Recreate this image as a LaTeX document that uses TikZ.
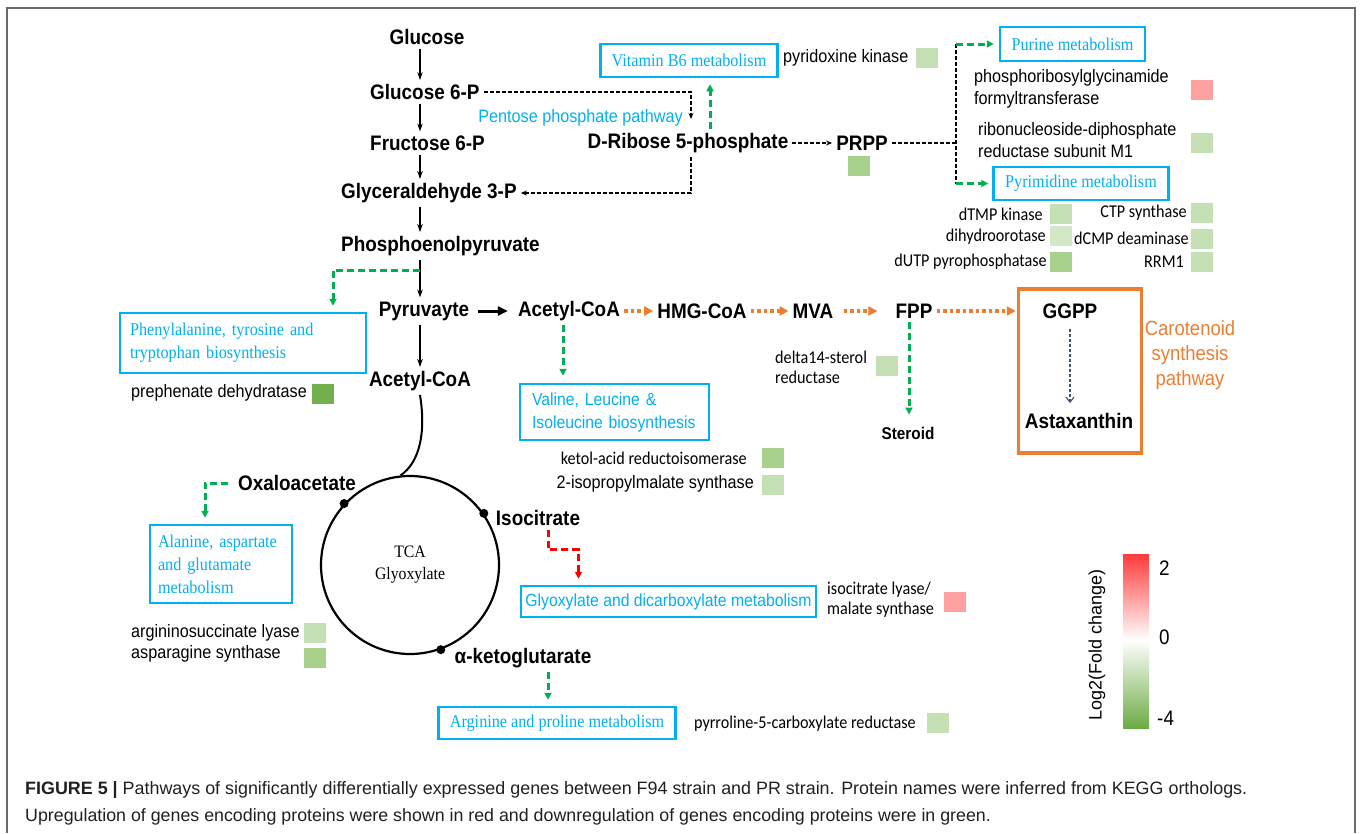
\documentclass[tikz,border=0pt]{standalone}
\usepackage{fontspec}
\usepackage{tikz}
\usetikzlibrary{arrows.meta}
\setmainfont{Liberation Sans}
\newfontfamily\narrowsans[FakeStretch=0.9]{Liberation Sans}
\newfontfamily\narrowserif[FakeStretch=0.9]{Liberation Serif}
\newfontfamily\narrowcal[FakeStretch=0.9]{Carlito}
\definecolor{pathblue}{HTML}{00B0F0}
\definecolor{dgreen}{HTML}{00B050}
\definecolor{orng}{HTML}{ED7D31}
\definecolor{slate}{HTML}{44546A}
\definecolor{framegray}{HTML}{6A6A6A}
\definecolor{captxt}{HTML}{231F20}
\definecolor{lg}{HTML}{C5E0B4}
\definecolor{llg}{HTML}{D3E8C7}
\definecolor{mg}{HTML}{A9D18E}
\definecolor{dg}{HTML}{74AF4E}
\definecolor{lr}{HTML}{FFA0A0}
\definecolor{barred}{HTML}{FF3A3A}
\definecolor{bargreen}{HTML}{6CAB43}
\tikzset{
  met/.style={font=\narrowsans\bfseries\fontsize{21}{24}\selectfont, inner sep=4pt},
  gene/.style={font=\narrowsans\fontsize{18}{22}\selectfont, inner sep=0pt, align=left},
  cal/.style={font=\narrowcal\fontsize{18}{20}\selectfont, inner sep=0pt, align=left},
  pbox/.style={draw=pathblue, line width=2.5pt, text=pathblue, inner sep=0pt, font=\narrowserif\fontsize{18}{23}\selectfont},
  sbox/.style={pbox, font=\narrowsans\fontsize{17.5}{23}\selectfont},
  sq/.style={minimum width=22pt, minimum height=20pt, inner sep=0pt},
  ar/.style={-{Stealth[length=8pt,width=5.5pt]}, line width=1.1pt},
  kdash/.style={-{Stealth[length=6pt,width=5pt]}, dash pattern=on 4pt off 2pt, line width=1.2pt},
  gdash/.style={dgreen, -{Triangle[length=7pt,width=7pt]}, dash pattern=on 7pt off 4pt, line width=3pt},
  rdash/.style={gdash, red},
  odot/.style={orng, -{Triangle[length=9pt,width=9pt]}, dash pattern=on 3.5pt off 3pt, line width=3.5pt},
}
\begin{document}
\begin{tikzpicture}[x=1pt, y=-1pt]
\useasboundingbox (0,0) rectangle (1360,833);
\draw[framegray, line width=2pt] (7,833) -- (7,8) -- (1355,8) -- (1355,833);

\coordinate (spine) at (420,0);
\node[met] (glc) at (427,37) {Glucose};
\node[met, anchor=west] (g6p) at (366,92) {Glucose 6-P};
\node[met, anchor=west] (f6p) at (366,143) {Fructose 6-P};
\node[met, anchor=west] (g3p) at (337,193) {Glyceraldehyde 3-P};
\node[met, anchor=west] (pep) at (337,246) {Phosphoenolpyruvate};
\node[met] (pyr) at (424,311) {Pyruvayte};
\node[met] (acoa2) at (420,381) {Acetyl-CoA};
\node[met] (acoa1) at (569,311) {Acetyl-CoA};
\node[met] (hmg) at (702,311) {HMG-CoA};
\node[met] (mva) at (813,311) {MVA};
\node[met] (fpp) at (914,311) {FPP};
\node[met] (ggpp) at (1070,311) {GGPP};
\node[met] (asta) at (1079,421) {Astaxanthin};
\node[met, font=\narrowsans\bfseries\fontsize{17}{20}\selectfont] (ster) at (908,433) {Steroid};
\node[met] (rib) at (688,143) {D-Ribose 5-phosphate};
\node[met] (prpp) at (862,143) {PRPP};
\node[met] (oxa) at (297,483) {Oxaloacetate};
\node[met] (iso) at (538,518) {Isocitrate};
\node[met] (akg) at (523,658) {α-ketoglutarate};
\node[anchor=east, text=pathblue, inner sep=0pt, font=\narrowsans\fontsize{18}{20}\selectfont] (ppp) at (683,118) {Pentose phosphate pathway};

\node[pbox, minimum width=177pt, minimum height=33pt] (vb6) at (689,60.5) {Vitamin B6 metabolism};
\node[pbox, minimum width=145pt, minimum height=34pt] (pur) at (1072.5,44) {Purine metabolism};
\node[pbox, minimum width=175pt, minimum height=33pt] (pyrim) at (1081,183.5) {Pyrimidine metabolism};
\node[pbox, text width=226pt, inner xsep=10pt, minimum height=60pt, align=left] (phe) at (243,343) {Phenylalanine, tyrosine and\\tryptophan biosynthesis};
\node[sbox, text width=165pt, inner xsep=12pt, minimum height=56pt, align=left] (val) at (614.5,412) {Valine, Leucine \&\\Isoleucine biosynthesis};
\node[pbox, text width=126pt, inner xsep=8pt, minimum height=78pt, align=left] (ala) at (221,564) {Alanine, aspartate\\and glutamate\\metabolism};
\node[sbox, minimum width=295pt, minimum height=31pt] (gly) at (668.5,601.5) {Glyoxylate and dicarboxylate metabolism};
\node[pbox, minimum width=237pt, minimum height=32pt] (arg) at (557,723) {Arginine and proline metabolism};
\node[draw=orng, line width=3.5pt, minimum width=123pt, minimum height=164pt] (carot) at (1080,371) {};
\node[text=orng, align=center, font=\narrowsans\fontsize{20.5}{25}\selectfont] (carl) at (1190,355) {Carotenoid\\synthesis\\pathway};

\node[circle, draw, line width=2.2pt, minimum size=178pt, inner sep=0pt, align=center, font=\narrowserif\fontsize{17.5}{22}\selectfont] (tca) at (410,565) {TCA\\Glyoxylate};
\fill (tca.137) circle (4.5pt);
\fill (tca.35) circle (4.5pt);
\fill (tca.-70) circle (4.5pt);

\draw[ar] (glc.south -| spine) -- (g6p.north -| spine);
\draw[ar] (g6p.south -| spine) -- (f6p.north -| spine);
\draw[ar] (f6p.south -| spine) -- (g3p.north -| spine);
\draw[ar] (g3p.south -| spine) -- (pep.north -| spine);
\draw[ar] (pep.south -| spine) -- (pyr.north -| spine);
\draw[ar] (pyr.south -| spine) -- (acoa2.north -| spine);
\draw[line width=2pt] (acoa2.south) .. controls (426,432) and (420,462) .. (tca.96);

\draw[kdash] (g6p.east) -| ([xshift=3pt,yshift=10pt]rib.north);
\draw[kdash] ([xshift=3pt]rib.south) |- (g3p.east);
\draw[kdash] (rib.east) -- (prpp.west);
\coordinate (split) at (956,143);
\draw[dash pattern=on 4pt off 2pt, line width=1.2pt] (prpp.east) -- (split);
\draw[dash pattern=on 4pt off 2pt, line width=1.2pt] (split |- pur.west) -- (split |- pyrim.west);
\draw[gdash, shorten >=5pt] (split |- pur.west) -- (pur.west);
\draw[gdash, shorten >=4pt] (split |- pyrim.west) -- (pyrim.west);
\draw[gdash, shorten >=6pt] ([xshift=22pt]rib.north) -- ([xshift=22pt]rib.north |- vb6.south);

\coordinate (pb) at (420,270);
\draw[gdash, shorten >=6pt] (pb) -| ([xshift=90pt]phe.north);
\draw[-{Triangle[length=10pt,width=9pt]}, line width=3pt, shorten <=5pt, shorten >=6pt] (pyr.east) -- (acoa1.west);
\draw[odot] (acoa1.east) -- (hmg.west);
\draw[odot] (hmg.east) -- (mva.west);
\draw[odot, shorten <=6pt, shorten >=14pt] (mva.east) -- (fpp.west);
\draw[odot, shorten >=1pt] (fpp.east) -- (carot.west |- fpp.east);
\draw[gdash, shorten >=7pt] ([xshift=-6pt]acoa1.south) -- ([xshift=-6pt]acoa1.south |- val.north);
\draw[gdash, shorten >=8pt] ([xshift=-5pt]fpp.south) -- ([xshift=-5pt]fpp.south |- ster.north);
\draw[slate, -{Straight Barb[length=5pt,width=8pt]}, dash pattern=on 3pt off 2pt, line width=1.2pt, shorten <=6pt, shorten >=6pt] (ggpp.south) -- (ggpp.south |- asta.north);

\draw[gdash, shorten <=6pt, shorten >=6pt] (oxa.west) -| ([xshift=-16pt]ala.north);
\draw[rdash, shorten >=6pt] ([xshift=10pt]iso.south) -- ++(0,20) -| ([xshift=-90pt]gly.north);
\draw[gdash, shorten >=6pt] ([xshift=25pt]akg.south) -- ([xshift=25pt]akg.south |- arg.north);

\node[gene, anchor=west] (pdk) at (783,58) {pyridoxine kinase};
\node[sq, fill=lg] (pdks) at (927,58) {};
\node[sq, fill=mg] (prpps) at (859,166) {};
\node[gene, anchor=west] (gart) at (974,89) {phosphoribosylglycinamide\\formyltransferase};
\node[sq, fill=lr] (garts) at (1202,90) {};
\node[gene, anchor=west] (rnr) at (978,140) {ribonucleoside-diphosphate\\reductase subunit M1};
\node[sq, fill=lg] (rnrs) at (1202,142.5) {};
\node[cal, anchor=east] (dtmp) at (1043,214) {dTMP kinase};
\node[sq, fill=lg] (dtmps) at (1061,213.5) {};
\node[cal, anchor=east] (dho) at (1046,237) {dihydroorotase};
\node[sq, fill=llg] (dhos) at (1061,236) {};
\node[cal, anchor=east] (dut) at (1047,262) {dUTP pyrophosphatase};
\node[sq, fill=mg] (duts) at (1061,262) {};
\node[cal, anchor=east] (ctp) at (1187,213) {CTP synthase};
\node[sq, fill=lg] (ctps) at (1202,213) {};
\node[cal, anchor=east] (dcmp) at (1189,238) {dCMP deaminase};
\node[sq, fill=lg] (dcmps) at (1202,239) {};
\node[cal, anchor=east] (rrm) at (1184,262) {RRM1};
\node[sq, fill=lg] (rrms) at (1202,262) {};
\node[gene, anchor=west] (pdh) at (131,393) {prephenate dehydratase};
\node[sq, fill=dg] (pdhs) at (322.5,394) {};
\node[cal, anchor=east] (kari) at (747,458) {ketol-acid reductoisomerase};
\node[sq, fill=mg] (karis) at (773,458) {};
\node[gene, anchor=east] (ipms) at (754,484) {2-isopropylmalate synthase};
\node[sq, fill=lg] (ipmss) at (773,485) {};
\node[cal, anchor=west] (dsr) at (775,367) {delta14-sterol\\reductase};
\node[sq, fill=lg] (dsrs) at (887,366) {};
\node[gene, anchor=west] (asl) at (131,633) {argininosuccinate lyase};
\node[sq, fill=lg] (asls) at (315,633) {};
\node[gene, anchor=west] (asns) at (131,654) {asparagine synthase};
\node[sq, fill=mg] (asnss) at (315,657.5) {};
\node[cal, anchor=west] (icl) at (827,600) {isocitrate lyase/\\malate synthase};
\node[sq, fill=lr] (icls) at (955,602) {};
\node[cal, anchor=east] (p5cr) at (916,724) {pyrroline-5-carboxylate reductase};
\node[sq, fill=lg] (p5crs) at (937.5,723) {};

\shade[top color=barred, bottom color=white] (1123,554) rectangle (1149,640);
\shade[top color=white, bottom color=bargreen] (1123,640) rectangle (1149,728);
\node[anchor=west, inner sep=0pt, font=\narrowsans\fontsize{21}{24}\selectfont] (c2) at (1159,568) {2};
\node[anchor=west, inner sep=0pt, font=\narrowsans\fontsize{21}{24}\selectfont] (c0) at (1159,637) {0};
\node[anchor=west, inner sep=0pt, font=\narrowsans\fontsize{21}{24}\selectfont] (c4) at (1157,718) {-4};
\node[rotate=90, inner sep=0pt, font=\fontsize{18}{22}\selectfont] (lfc) at (1097,645) {Log2(Fold change)};

\node[anchor=base west, inner sep=0pt, text=captxt, font=\fontsize{17.9}{20}\selectfont] (cap1) at (25,794) {\textbf{FIGURE 5 |} Pathways of significantly differentially expressed genes between F94 strain and PR strain. Protein names were inferred from KEGG orthologs.};
\node[anchor=base west, inner sep=0pt, text=captxt, font=\fontsize{17.8}{20}\selectfont] (cap2) at (25,821) {Upregulation of genes encoding proteins were shown in red and downregulation of genes encoding proteins were in green.};
\end{tikzpicture}
\end{document}
